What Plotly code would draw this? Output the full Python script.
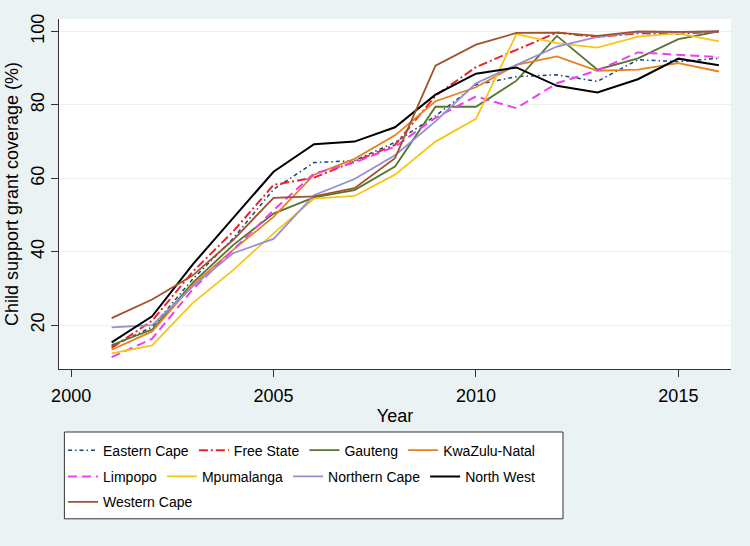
import plotly.graph_objects as go

# Child support grant coverage by province, 2001-2016
years = list(range(2001, 2017))

eastern_cape = [14.2, 19.5, 32.5, 43.6, 57.0, 64.3, 64.8, 69.8, 77.0, 85.5, 87.7, 88.2, 86.4, 92.3, 91.8, 92.7]
free_state = [13.8, 21.2, 34.5, 45.5, 58.2, 60.2, 64.6, 69.1, 82.5, 90.3, 95.0, 99.7, 98.5, 99.5, 99.4, 100.0]
gauteng = [14.6, 18.8, 31.5, 41.8, 50.4, 54.8, 56.8, 63.2, 79.5, 79.5, 86.6, 98.8, 89.6, 92.7, 97.9, 100.0]
kwazulu_natal = [13.3, 18.3, 31.0, 40.5, 49.5, 61.0, 65.3, 71.7, 81.0, 84.8, 90.9, 93.2, 89.3, 89.6, 91.4, 89.1]
limpopo = [11.3, 16.3, 29.7, 40.5, 51.3, 61.3, 64.3, 68.6, 76.5, 82.3, 79.1, 85.9, 89.4, 94.3, 93.6, 93.0]
mpumalanga = [12.3, 14.5, 26.0, 35.0, 45.0, 54.5, 55.2, 61.0, 70.0, 76.2, 99.3, 96.8, 95.6, 98.6, 99.5, 97.3]
northern_cape = [19.4, 20.0, 30.5, 39.6, 43.5, 55.4, 59.8, 66.3, 75.5, 85.9, 90.9, 95.9, 98.5, 99.8, 99.8, 100.0]
north_west = [15.3, 22.4, 36.5, 49.3, 61.8, 69.3, 70.0, 73.9, 82.8, 88.5, 90.2, 85.2, 83.4, 87.0, 92.6, 90.8]
western_cape = [21.9, 27.0, 33.5, 43.2, 54.7, 55.1, 57.3, 65.5, 90.7, 96.4, 99.6, 99.7, 98.8, 100.0, 99.9, 100.0]

x_ticks = [2000, 2005, 2010, 2015]
y_ticks = [20, 40, 60, 80, 100]

bg = "#EAF2F3"
font = "Liberation Sans, Arial, sans-serif"

# name, values, colour, width, dash, legend row
series = [
    ("Eastern Cape", eastern_cape, "#1A476F", 1.5, "4px,3px,1.5px,3px", "legend"),
    ("Free State", free_state, "#E8262A", 2, "9px,3px,2px,3px", "legend"),
    ("Gauteng", gauteng, "#55752F", 1.8, "solid", "legend"),
    ("KwaZulu-Natal", kwazulu_natal, "#E8801E", 1.8, "solid", "legend"),
    ("Limpopo", limpopo, "#F03DF0", 2, "9px,5px", "legend2"),
    ("Mpumalanga", mpumalanga, "#F7C51A", 1.8, "solid", "legend2"),
    ("Northern Cape", northern_cape, "#948FD2", 1.8, "solid", "legend2"),
    ("North West", north_west, "#000000", 2, "solid", "legend2"),
    ("Western Cape", western_cape, "#A0522D", 1.8, "solid", "legend3"),
]

fig = go.Figure()
for name, vals, color, width, dash, leg in series:
    fig.add_trace(go.Scatter(
        x=years, y=vals, mode="lines", name=name,
        line=dict(color=color, width=width, dash=dash),
        legend=leg,
    ))

# plot area in pixels: x 59..731, y 19..369
legend_common = dict(
    orientation="h", xanchor="left", yanchor="middle", x=0.006,
    bgcolor="rgba(0,0,0,0)", borderwidth=0,
    font=dict(family=font, size=14, color="#000"),
    itemwidth=30, tracegroupgap=0,
)

fig.update_layout(
    width=750, height=546,
    paper_bgcolor=bg, plot_bgcolor="white",
    margin=dict(l=59, r=19, t=19, b=177),
    font=dict(family=font, size=18, color="#000"),
    legend=dict(y=-0.233, **legend_common),
    legend2=dict(y=-0.308, **legend_common),
    legend3=dict(y=-0.381, **legend_common),
    shapes=[dict(
        type="rect", xref="paper", yref="paper",
        x0=0.008, x1=0.75, y0=-0.428, y1=-0.18,
        fillcolor="white", line=dict(color="#333", width=1), layer="below",
    )],
)

fig.update_xaxes(
    range=[1999.70, 2016.30], tickvals=x_ticks,
    showgrid=False, zeroline=False, automargin=False,
    showline=True, linecolor="#333", linewidth=1,
    ticks="outside", ticklen=7, tickcolor="#333",
    tickfont=dict(size=18), ticklabelstandoff=3,
    title=dict(text="Year", font=dict(size=18), standoff=4),
)
fig.update_yaxes(
    range=[8.06, 103.4], tickvals=y_ticks, tickangle=-90,
    showgrid=True, gridcolor=bg, gridwidth=1, zeroline=False, automargin=False,
    showline=True, linecolor="#333", linewidth=1,
    ticks="outside", ticklen=7, tickcolor="#333",
    tickfont=dict(size=18),
    title=dict(text="Child support grant coverage (%)", font=dict(size=18), standoff=4),
)

# drop the browser's default 8px page margin so the figure fills the window
fig.write_html(
    "out.html",
    config={"displayModeBar": False},
    post_script="document.body.style.margin = '0';",
)
